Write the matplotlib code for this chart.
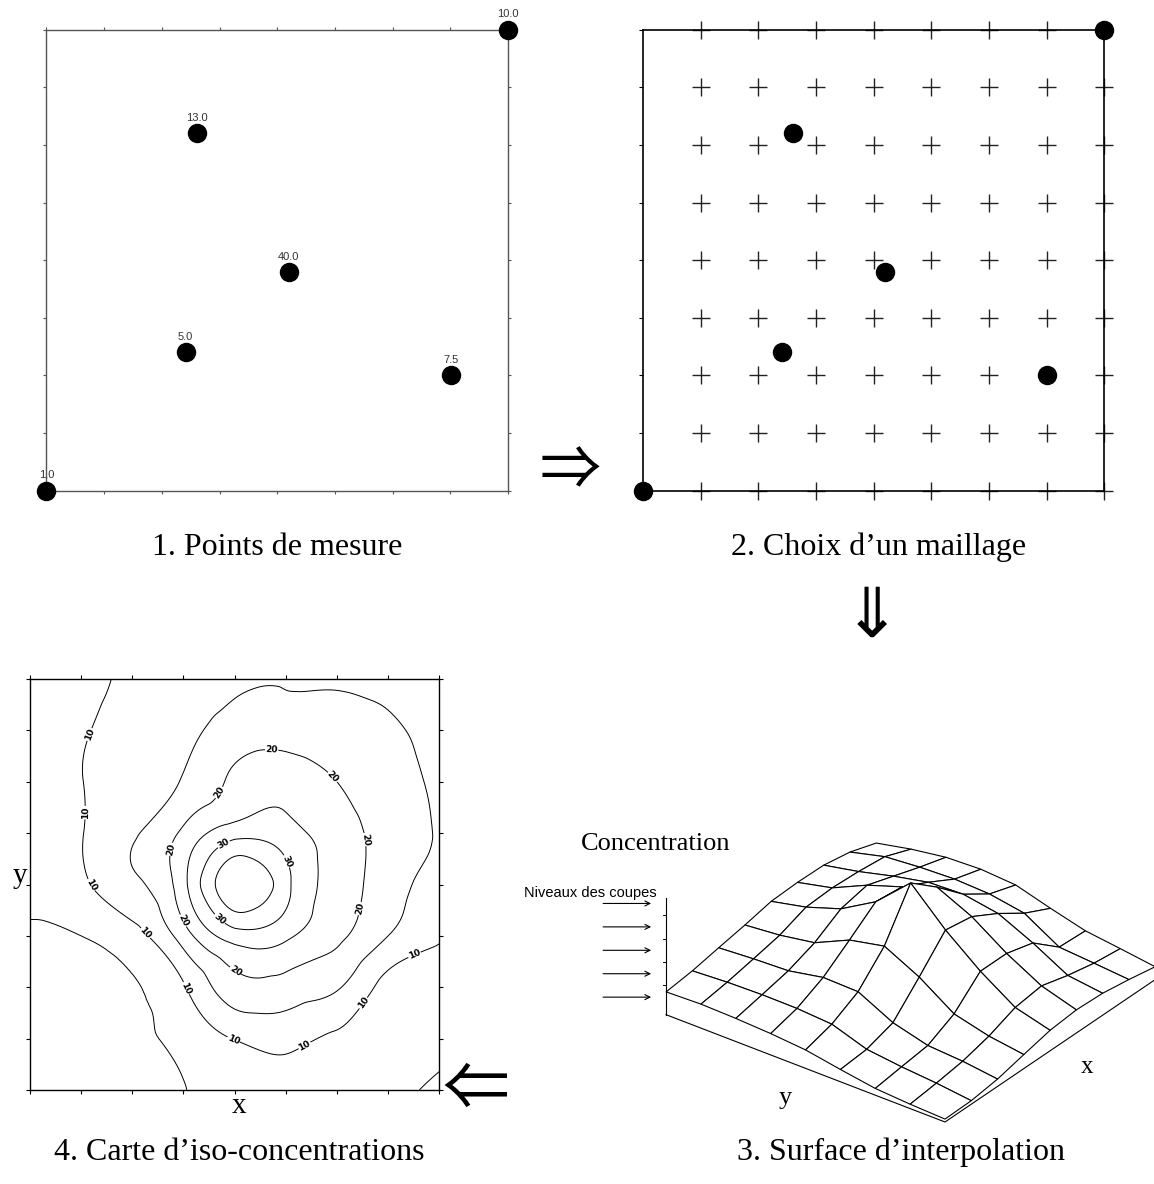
import numpy as np
import matplotlib
matplotlib.use("Agg")
import matplotlib.pyplot as plt
import matplotlib.tri as mtri
from matplotlib.lines import Line2D
from mpl_toolkits.mplot3d import proj3d

# ---------------------------------------------------------------- data
# measurement points (mesh units, 0..8 on both axes) and measured values
pt_x = [0.0, 8.0, 2.61, 4.2, 2.41, 7.01]
pt_y = [0.0, 8.0, 6.2, 3.8, 2.41, 2.0]
pt_val = [1.0, 10.0, 13.0, 40.0, 5.0, 7.5]

# mesh nodes
mesh = [0, 1, 2, 3, 4, 5, 6, 7, 8]

# interpolated concentration at the mesh nodes (rows: y = 0..8, cols: x = 0..8)
conc = [
    [1.0, 1.2, 2.5, 4.8, 7.0, 7.9, 7.5, 6.1, 4.4],
    [1.5, 2.6, 4.0, 6.5, 10.2, 11.5, 9.0, 7.1, 6.0],
    [2.3, 3.6, 4.8, 9.5, 18.0, 18.0, 15.5, 8.0, 7.5],
    [4.2, 5.0, 8.0, 17.5, 27.5, 26.0, 21.0, 15.0, 10.6],
    [6.3, 9.0, 14.0, 23.5, 39.0, 31.5, 23.0, 17.0, 14.0],
    [7.3, 9.8, 14.3, 21.0, 28.0, 27.0, 22.5, 17.5, 14.8],
    [7.9, 9.9, 12.0, 15.5, 21.0, 23.0, 20.0, 17.0, 14.3],
    [8.2, 9.6, 11.5, 13.5, 17.0, 17.5, 17.0, 16.0, 12.5],
    [7.8, 8.9, 10.7, 12.4, 14.4, 14.8, 14.6, 13.0, 10.0],
]

labelled_levels = [10, 20, 30]
plain_levels = [5, 15, 25, 35]
cut_levels = [6, 14, 22, 30, 38]
conc_axis_ticks = [10, 18, 26, 34]
conc_axis_top = 40

captions = ["1. Points de mesure", "2. Choix d\u2019un maillage",
            "3. Surface d\u2019interpolation", "4. Carte d\u2019iso-concentrations"]

# ---------------------------------------------------------------- layout helpers
W, H = 1154, 1184
SERIF = "Liberation Serif"
SANS = "Liberation Sans"
ARROW_FONTS = ["Noto Sans CJK JP", "DejaVu Sans"]

fig = plt.figure(figsize=(W / 100, H / 100), dpi=100)


def box(x0, y0, x1, y1):
    """Pixel box (origin top-left) -> figure fraction rect."""
    return [x0 / W, 1 - y1 / H, (x1 - x0) / W, (y1 - y0) / H]


def ftext(x, y, s, **kw):
    return fig.text(x / W, 1 - y / H, s, **kw)


NX, NY = np.meshgrid(mesh, mesh)
Z = np.array(conc)

# ---------------------------------------------------------------- 1. measurement points
ax1 = fig.add_axes(box(46.4, 29.7, 508.2, 490.7))
ax1.set_xlim(0, 8)
ax1.set_ylim(0, 8)
ax1.set_xticks(mesh)
ax1.set_yticks(mesh)
ax1.tick_params(direction="out", length=2.5, width=0.8, color="#555",
                top=True, right=True, labelbottom=False, labelleft=False)
for sp in ax1.spines.values():
    sp.set_color("#555")
    sp.set_linewidth(1.0)
ax1.plot(pt_x, pt_y, "o", ms=14, mew=0, color="k", clip_on=False, zorder=3)
for x, y, v in zip(pt_x, pt_y, pt_val):
    ax1.annotate(f"{v:.1f}", (x, y), xytext=(0, 8.8), textcoords="offset points",
                 ha="center", va="baseline", fontsize=8, family=SANS,
                 color="#333", annotation_clip=False)

# ---------------------------------------------------------------- 2. mesh choice
ax2 = fig.add_axes(box(643, 29.7, 1104.2, 490.7))
ax2.set_xlim(0, 8)
ax2.set_ylim(0, 8)
ax2.set_xticks([])
ax2.set_yticks(mesh)
ax2.tick_params(axis="y", direction="out", length=3, width=0.8, labelleft=False)
for sp in ax2.spines.values():
    sp.set_color("k")
    sp.set_linewidth(1.2)
mx, my = np.meshgrid(mesh[1:], mesh)
ax2.plot(mx.ravel(), my.ravel(), "+", ms=13, mew=1.0, color="#222",
         clip_on=False, zorder=2)
ax2.plot(pt_x, pt_y, "o", ms=14, mew=0, color="k", clip_on=False, zorder=3)

# ---------------------------------------------------------------- 4. iso-concentration map
ax4 = fig.add_axes(box(30, 679, 439.3, 1090))
ax4.set_xlim(0, 8)
ax4.set_ylim(0, 8)
ax4.set_xticks(mesh)
ax4.set_yticks(mesh)
ax4.tick_params(direction="out", length=3, width=0.8, top=True, right=True,
                labelbottom=False, labelleft=False)
for sp in ax4.spines.values():
    sp.set_linewidth(1.0)
tri = mtri.Triangulation(NX.ravel().astype(float), NY.ravel().astype(float))
tri_f, z_f = mtri.UniformTriRefiner(tri).refine_field(Z.ravel(), subdiv=4)
ax4.tricontour(tri_f, z_f, levels=plain_levels, colors="k", linewidths=0.7)
cs = ax4.tricontour(tri_f, z_f, levels=labelled_levels, colors="k", linewidths=0.7)
label_spots = [(1.27, 6.88), (0.97, 5.4), (1.27, 4.04), (2.2, 3.0), (3.03, 1.97),
               (3.97, 0.96), (5.37, 0.86), (6.45, 1.74), (7.52, 2.62),
               (4.72, 6.52), (6.0, 6.17), (6.7, 4.9), (6.35, 3.55), (4.04, 2.36),
               (3.0, 3.3), (2.7, 4.7), (3.52, 5.9),
               (3.85, 4.67), (5.14, 4.5), (3.77, 3.4)]
lbls = ax4.clabel(cs, fmt="%d", fontsize=6.5, inline=True, inline_spacing=1,
                  manual=label_spots)
for t in lbls:
    t.set_fontweight("bold")
    t.set_family("DejaVu Sans")
ftext(239, 1113, "x", ha="center", va="baseline", fontsize=21, family=SERIF)
ftext(19.5, 883, "y", ha="center", va="baseline", fontsize=21, family=SERIF)

# ---------------------------------------------------------------- 3. interpolation surface
side = 560
cx, cy = 910, 938
ax3 = fig.add_axes(box(cx - side / 2, cy - side / 2, cx + side / 2, cy + side / 2),
                   projection="3d", proj_type="ortho", computed_zorder=False)
ax3.view_init(elev=30.7, azim=-143)
ax3.set_xlim(0, 8)
ax3.set_ylim(0, 8)
ax3.set_zlim(0, conc_axis_top)
z_aspect = 0.39
ax3.set_box_aspect((1, 1, z_aspect), zoom=1.0)
ax3.set_axis_off()
ax3.patch.set_alpha(0)
ax3.plot_surface(NX, NY, Z, rstride=1, cstride=1, color="white",
                 edgecolor="k", linewidth=0.8, shade=False, zorder=1)
ax3.plot([0, 0, 8], [8, 0, 0], [0, 0, 0], color="k", lw=0.8, zorder=2)
ax3.plot([0, 0], [8, 8], [0, conc_axis_top], color="k", lw=0.8, zorder=2)

_ptf = getattr(proj3d, "proj_transform", None) or getattr(proj3d, "_proj_transform")


def to_px(x, y, z):
    M = ax3.get_proj()
    px, py, _ = _ptf(np.atleast_1d(np.asarray(x, float)),
                     np.atleast_1d(np.asarray(y, float)),
                     np.atleast_1d(np.asarray(z, float)), M)
    return ax3.transData.transform(np.column_stack([px, py]))


# scale and place the projected mesh so its front corner and y-edge sit where wanted
front_target = np.array([945.0, H - 1122.0])
left_target = np.array([666.0, H - 1015.0])
ax3.apply_aspect()
p = to_px([0, 0], [0, 8], [0, 0])
k = np.linalg.norm(left_target - front_target) / np.linalg.norm(p[1] - p[0])
ax3.set_box_aspect((1, 1, z_aspect), zoom=k)
p = to_px([0], [0], [0])
d = front_target - p[0]
pos = ax3.get_position(original=True)
ax3.set_position([pos.x0 + d[0] / W, pos.y0 + d[1] / H, pos.width, pos.height])
ax3.apply_aspect()

# concentration axis: tick marks and cut-level arrows
axis_pts = to_px([0] * len(conc_axis_ticks), [8] * len(conc_axis_ticks), conc_axis_ticks)
for (ax_x, ax_y) in axis_pts:
    fig.add_artist(Line2D([ax_x - 3, ax_x], [ax_y, ax_y], color="k", lw=0.7,
                          transform=None))
cut_pts = to_px([0] * len(cut_levels), [8] * len(cut_levels), cut_levels)
for (ax_x, ax_y) in cut_pts:
    ax4.annotate("", xy=(ax_x - 15, ax_y), xycoords="figure pixels",
                 xytext=(ax_x - 63, ax_y), textcoords="figure pixels",
                 annotation_clip=False,
                 arrowprops=dict(arrowstyle="->", lw=0.8, color="k",
                                 mutation_scale=9, shrinkA=0, shrinkB=0))

ftext(656, 850, "Concentration", ha="center", va="baseline", fontsize=19, family=SERIF)
ftext(657, 897, "Niveaux des coupes", ha="right", va="baseline", fontsize=10.5,
      family=SANS)
ftext(1087, 1073, "x", ha="center", va="baseline", fontsize=18, family=SERIF)
ftext(785, 1104, "y", ha="center", va="baseline", fontsize=19, family=SERIF)

# ---------------------------------------------------------------- flow arrows and captions
ftext(570, 472, "\u21d2", ha="center", va="center", fontsize=44, family=ARROW_FONTS)
ftext(872, 617, "\u21d3", ha="center", va="center", fontsize=50, family=ARROW_FONTS)
ftext(476, 1091, "\u21d0", ha="center", va="center", fontsize=48, family=ARROW_FONTS)

ftext(277, 555, captions[0], ha="center", va="baseline", fontsize=23, family=SERIF)
ftext(879, 555, captions[1], ha="center", va="baseline", fontsize=23, family=SERIF)
ftext(901, 1160, captions[2], ha="center", va="baseline", fontsize=23, family=SERIF)
ftext(239, 1160, captions[3], ha="center", va="baseline", fontsize=23, family=SERIF)

fig.savefig("out.png", dpi=100)
